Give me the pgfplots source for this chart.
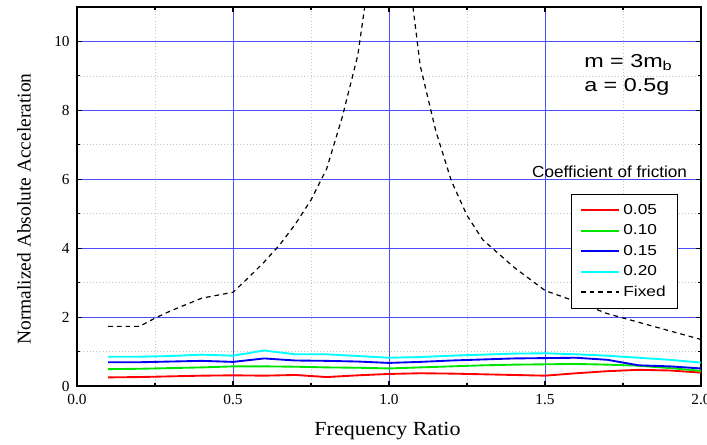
\documentclass[border=0pt]{standalone}
\usepackage{pgfplots}
\pgfplotsset{compat=1.18}
\usepackage{fontspec}
\setmainfont{Liberation Serif}
\newfontfamily\arial{Liberation Sans}
\definecolor{gridblue}{rgb}{0.3,0.3,1}
\definecolor{myred}{rgb}{1,0,0}
\definecolor{mygreen}{rgb}{0,0.9,0}
\definecolor{myblue}{rgb}{0,0,0.95}
\definecolor{mycyan}{rgb}{0,1,1}
\newcommand{\wide}[1]{\scalebox{1.2}[1]{#1}}
\begin{document}
\begin{tikzpicture}
\begin{axis}[
  at={(0,0)}, anchor=south west,
  scale only axis, width=468pt, height=284.25pt,
  xmin=0, xmax=2, ymin=0, ymax=11,
  xtick={0,0.5,1,1.5,2}, ytick={0,2,4,6,8,10},
  minor x tick num=1, minor y tick num=1,
  xtick pos=both, ytick pos=both,
  xticklabel pos=left, yticklabel pos=left,
  tick align=inside,
  major tick length=4pt, minor tick length=2.5pt,
  tick style={black, line width=0.8pt},
  axis line style={black, line width=1.2pt},
  grid=both,
  major grid style={gridblue, line width=0.75pt, solid},
  minor grid style={gray!45, dotted, line width=0.5pt},
  /pgf/number format/assume math mode=true,
  xticklabel style={/pgf/number format/fixed, /pgf/number format/fixed zerofill, /pgf/number format/precision=1, yshift=-3pt},
  yticklabel style={xshift=-2pt},
  ticklabel style={font=\fontsize{11.5}{13}\selectfont},
  xlabel={\scalebox{1.1}[1]{Frequency Ratio}},
  ylabel={Normalized Absolute Acceleration},
  xlabel style={font=\fontsize{15}{17}\selectfont, at={(axis description cs:0.4976,-0.119)}, anchor=center},
  ylabel style={font=\fontsize{14.6}{17}\selectfont, at={(axis description cs:-0.0849,0.467)}, anchor=center, rotate=0},
  legend style={at={(axis description cs:0.963,0.507)}, anchor=north east, draw=black, fill=white,
    font=\arial\fontsize{10.8}{12}\selectfont, row sep=2.3pt, inner xsep=6.5pt, inner ysep=5.5pt,
    nodes={inner xsep=2.5pt}},
  legend cell align=left,
  legend image code/.code={\draw[#1, line width=1.5pt] (0pt,0pt) -- (28.5pt,0pt);},
]
\addplot[color=myred, line width=1.4pt] coordinates {
(0.1,0.25)(0.2,0.26)(0.3,0.28)(0.4,0.3)(0.5,0.31)(0.6,0.3)(0.7,0.32)(0.8,0.26)(0.9,0.31)(1.0,0.35)
(1.1,0.37)(1.2,0.36)(1.3,0.34)(1.4,0.32)(1.5,0.30)(1.6,0.37)(1.7,0.43)(1.8,0.47)(1.9,0.45)(2.0,0.39)};
\addlegendentry{\wide{0.05}}
\addplot[color=mygreen, line width=1.4pt] coordinates {
(0.1,0.49)(0.2,0.5)(0.3,0.52)(0.4,0.54)(0.5,0.57)(0.6,0.57)(0.7,0.56)(0.8,0.54)(0.9,0.53)(1.0,0.51)
(1.1,0.54)(1.2,0.57)(1.3,0.6)(1.4,0.62)(1.5,0.63)(1.6,0.64)(1.7,0.62)(1.8,0.59)(1.9,0.52)(2.0,0.44)};
\addlegendentry{\wide{0.10}}
\addplot[color=myblue, line width=1.4pt] coordinates {
(0.1,0.69)(0.2,0.69)(0.3,0.71)(0.4,0.73)(0.5,0.7)(0.6,0.8)(0.7,0.74)(0.8,0.73)(0.9,0.71)(1.0,0.67)
(1.1,0.7)(1.2,0.74)(1.3,0.77)(1.4,0.8)(1.5,0.81)(1.6,0.82)(1.7,0.76)(1.8,0.6)(1.9,0.57)(2.0,0.51)};
\addlegendentry{\wide{0.15}}
\addplot[color=mycyan, line width=1.4pt] coordinates {
(0.1,0.85)(0.2,0.85)(0.3,0.87)(0.4,0.91)(0.5,0.88)(0.6,1.03)(0.7,0.92)(0.8,0.92)(0.9,0.87)(1.0,0.82)
(1.1,0.84)(1.2,0.88)(1.3,0.91)(1.4,0.94)(1.5,0.95)(1.6,0.92)(1.7,0.88)(1.8,0.82)(1.9,0.76)(2.0,0.68)};
\addlegendentry{\wide{0.20}}
\addplot[color=black, line width=0.9pt, dash pattern=on 3.5pt off 3pt] coordinates {
(0.1,1.73)(0.2,1.73)(0.25,1.97)(0.3,2.18)(0.4,2.55)(0.5,2.72)(0.55,3.15)(0.6,3.6)(0.65,4.1)(0.7,4.7)
(0.75,5.4)(0.8,6.3)(0.85,7.8)(0.9,9.6)(0.93,11.5)};
\addlegendentry{\wide{Fixed}}
\addplot[color=black, line width=0.9pt, dash pattern=on 3.5pt off 3pt, forget plot] coordinates {
(1.07,11.5)(1.1,9.3)(1.15,7.4)(1.2,5.95)(1.25,4.95)(1.3,4.25)(1.35,3.85)(1.4,3.45)(1.5,2.77)
(1.6,2.45)(1.7,2.1)(1.8,1.85)(1.9,1.6)(2.0,1.35)};
\node[font=\arial\fontsize{12}{14}\selectfont] at (axis cs:1.707,6.23) {\scalebox{1.07}[1]{Coefficient of friction}};
\node[font=\arial\fontsize{14}{15}\selectfont, anchor=west, inner sep=0pt] at (axis cs:1.625,9.39) {\scalebox{1.25}[1]{m = 3m\textsubscript{b}}};
\node[font=\arial\fontsize{14}{15}\selectfont, anchor=west, inner sep=0pt] at (axis cs:1.625,8.67) {\scalebox{1.25}[1]{a = 0.5g}};
\end{axis}
\pgfresetboundingbox
\path[use as bounding box] (-57.75pt,-43.5pt) rectangle (472.5pt,289.5pt);
\end{tikzpicture}
\end{document}
